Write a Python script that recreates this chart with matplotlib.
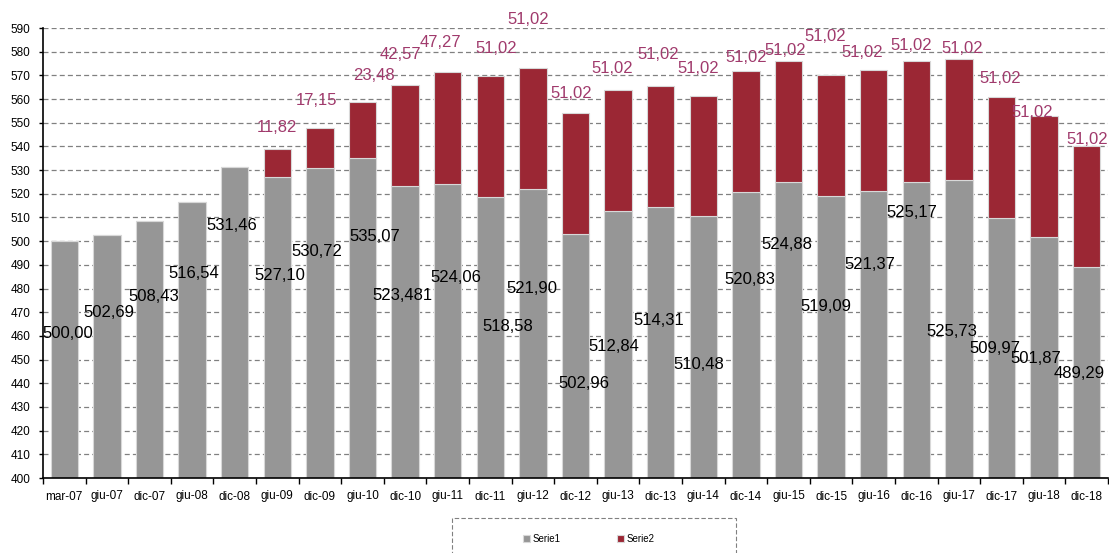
import numpy as np
import matplotlib
matplotlib.use("Agg")
import matplotlib.pyplot as plt
from matplotlib.patches import Rectangle

plt.rcParams['font.family'] = ['Liberation Sans', 'DejaVu Sans']

categories = ["mar-07", "giu-07", "dic-07", "giu-08", "dic-08", "giu-09", "dic-09",
              "giu-10", "dic-10", "giu-11", "dic-11", "giu-12", "dic-12", "giu-13",
              "dic-13", "giu-14", "dic-14", "giu-15", "dic-15", "giu-16", "dic-16",
              "giu-17", "dic-17", "giu-18", "dic-18"]

serie1 = [500.00, 502.69, 508.43, 516.54, 531.46, 527.10, 530.72, 535.07, 523.481,
          524.06, 518.58, 521.90, 502.96, 512.84, 514.31, 510.48, 520.83, 524.88,
          519.09, 521.37, 525.17, 525.73, 509.97, 501.87, 489.29]

serie2 = [0, 0, 0, 0, 0, 11.82, 17.15, 23.48, 42.57, 47.27, 51.02, 51.02, 51.02,
          51.02, 51.02, 51.02, 51.02, 51.02, 51.02, 51.02, 51.02, 51.02, 51.02,
          51.02, 51.02]

# where the data labels sit (y in axis units, x shift in category widths)
label1_y = [461, 470, 476.5, 486.5, 506.5, 485.5, 495.5, 502, 477, 484.5, 464, 480,
            440, 455.5, 466.5, 448, 484, 498.5, 472.5, 490, 512, 462, 454.5, 450.5, 444]
label1_dx = [0.07, 0.05, 0.1, 0.05, -0.07, 0.05, -0.07, 0.28, -0.07, 0.19, 0.42, -0.03,
             0.2, -0.1, -0.05, -0.1, 0.1, -0.05, -0.12, -0.1, -0.1, -0.17, -0.15, -0.2, -0.17]
label2_y = [0, 0, 0, 0, 0, 548, 559.5, 570, 579, 584, 581.5, 593.5, 562.5, 573, 579,
            573, 577.5, 580.5, 586.5, 579.5, 582.5, 581.5, 568.5, 554.5, 543]
label2_dx = [0, 0, 0, 0, 0, -0.02, -0.07, 0.28, -0.12, -0.17, 0.13, -0.1, -0.1, -0.15,
             -0.05, -0.12, 0, -0.07, -0.14, -0.28, -0.12, 0.07, -0.02, -0.28, 0.02]


def fmt(v):
    s = f"{v:.3f}"
    if s.endswith("0"):
        s = s[:-1]
    return s.replace(".", ",")


gray = "#969696"
red = "#9B2734"
label_red = "#A03A6C"

fig = plt.figure(figsize=(11.09, 5.53), dpi=100)
ax = fig.add_axes([43 / 1109, 1 - 478 / 553, 1065 / 1109, 450 / 553])

x = np.arange(len(categories))
s1 = np.array(serie1)
s2 = np.array(serie2)

ax.bar(x, s1 - 400, 0.64, bottom=400, color=gray, edgecolor="#D8D8D8",
       linewidth=0.8, zorder=2, label="Serie1")
ax.bar(x, s2, 0.64, bottom=s1, color=red, edgecolor="#D8D8D8",
       linewidth=0.8, zorder=2, label="Serie2")

for i in range(len(categories)):
    ax.text(x[i] + label1_dx[i], label1_y[i], fmt(s1[i]), ha="center", va="center",
            fontsize=12, color="black", zorder=3)
    if s2[i] > 0:
        ax.text(x[i] + label2_dx[i], label2_y[i], fmt(s2[i]), ha="center", va="center",
                fontsize=12, color=label_red, zorder=3)

ax.set_ylim(400, 590)
ax.set_yticks(np.arange(400, 591, 10))
ax.set_xlim(-0.5, len(categories) - 0.5)
ax.set_xticks(x)
ax.set_xticklabels(categories)
ax.set_xticks(np.arange(-0.5, len(categories), 1), minor=True)
ax.tick_params(axis="x", which="major", length=0, pad=9, labelsize=8.5)
ax.tick_params(axis="x", which="minor", length=4, width=1, direction="out")
ax.tick_params(axis="y", length=3, width=1, direction="out", pad=6, labelsize=8.5)

ax.grid(axis="y", color="#808080", linestyle=(0, (4, 2.5)), linewidth=0.9, zorder=0)
ax.set_axisbelow(True)
for side in ["top", "right"]:
    ax.spines[side].set_visible(False)
for side in ["left", "bottom"]:
    ax.spines[side].set_linewidth(1.2)
    ax.spines[side].set_zorder(4)

# legend box along the bottom edge
fig.patches.append(Rectangle((452 / 1109, -0.05), 284 / 1109, 0.05 + 35 / 553,
                             transform=fig.transFigure, fill=False,
                             edgecolor="#808080", linestyle=(0, (4, 2)), linewidth=0.8))
handles, labels = ax.get_legend_handles_labels()
fig.legend(handles, labels, loc="center", bbox_to_anchor=(589 / 1109, 1 - 539 / 553),
           ncol=2, frameon=False, fontsize=7, handlelength=0.7, handleheight=0.7,
           handletextpad=0.3, columnspacing=5.8)

fig.savefig("out.png", dpi=100)
